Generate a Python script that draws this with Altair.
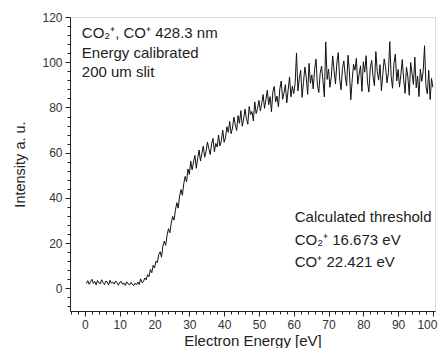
import altair as alt
import pandas as pd

# Intensity samples, one every 0.4 eV starting at 0.4 eV
intensity = [
    # 0.4 - 10.0
    2.1, 3.4, 1.8, 2.9, 4.0, 2.2, 3.1, 1.6, 3.5, 2.4, 2.0, 3.8, 2.6, 1.7, 3.2, 2.9, 1.5, 3.6, 2.3, 2.8, 1.9, 3.3, 2.5, 1.4, 2.7,
    # 10.4 - 20.0
    3.1, 1.8, 2.4, 1.3, 2.9, 2.0, 1.5, 2.6, 1.9, 1.2, 2.3, 1.6, 2.8, 1.7, 4.2, 2.5, 3.0, 4.6, 3.8, 6.1, 5.2, 8.4, 6.9, 10.2, 9.0,
    # 20.4 - 30.0
    12.0, 11.4, 14.9, 16.2, 13.8, 18.7, 20.9, 19.0, 23.5, 26.4, 24.6, 28.9, 31.8, 30.2, 34.6, 37.9, 35.5, 40.8, 43.7, 41.2, 46.3, 49.5, 47.1, 52.8, 50.4,
    # 30.4 - 40.0
    56.2, 52.4, 55.9, 58.8, 53.1, 57.6, 61.2, 56.3, 59.7, 62.9, 58.0, 60.6, 64.7, 61.8, 59.2, 63.9, 66.3, 60.4, 64.1, 62.5, 67.8, 63.0, 65.2, 69.9, 64.6,
    # 40.4 - 50.0
    66.8, 71.5, 69.0, 73.8, 68.4, 70.9, 75.7, 72.3, 69.8, 76.4, 73.0, 78.6, 71.7, 74.9, 79.3, 75.1, 72.6, 80.4, 76.8, 78.2, 74.0, 82.5, 77.3, 79.6, 83.1,
    # 50.4 - 60.0
    78.5, 81.9, 85.7, 79.6, 83.4, 87.6, 81.2, 84.8, 78.1, 86.9, 89.3, 82.4, 85.0, 80.3, 88.2, 91.7, 83.6, 86.5, 90.1, 82.0, 87.8, 93.5, 84.7, 89.4, 86.1,
    # 60.4 - 70.0
    90.6, 104.1, 87.3, 92.8, 96.4, 84.5, 91.0, 97.9, 93.2, 85.8, 99.5, 90.7, 94.4, 88.2, 96.7, 101.4, 89.9, 86.6, 95.1, 98.3, 91.8, 84.7, 109.0, 92.4, 97.0,
    # 70.4 - 80.0
    88.9, 93.5, 102.8, 96.1, 90.4, 99.7, 104.3, 92.6, 87.8, 97.2, 100.6, 94.0, 89.5, 103.1, 95.8, 83.4, 92.2, 99.0, 96.5, 101.7, 90.3, 94.8, 98.4, 87.1, 100.2,
    # 80.4 - 90.0
    95.6, 102.9, 91.2, 86.8, 97.5, 100.8, 93.4, 89.6, 104.7, 96.0, 92.1, 98.9, 87.4, 94.6, 101.5, 97.7, 90.9, 95.3, 109.1, 93.8, 88.5, 99.4, 103.6, 91.7, 96.8,
    # 90.4 - 100.0
    89.0, 94.7, 101.2, 92.3, 86.2, 97.8, 93.5, 85.4, 99.9, 95.1, 90.2, 102.3, 88.7, 93.9, 84.8, 97.0, 91.6, 95.8, 107.3, 89.5, 86.0, 96.4, 83.5, 92.8, 88.9,
]
energy_start = 0.4
energy_step = 0.4
energy = [round(energy_start + energy_step * i, 1) for i in range(len(intensity))]

major_x = [0, 10, 20, 30, 40, 50, 60, 70, 80, 90, 100]
minor_x = [v for v in range(-4, 101, 2) if v % 10 != 0]
major_y = [0, 20, 40, 60, 80, 100, 120]
minor_y = [v for v in range(-8, 121, 4) if v % 20 != 0]

ann_text = ["CO\u2082\u207a, CO\u207a 428.3 nm", "Energy calibrated", "200 um slit",
            "Calculated threshold", "CO\u2082\u207a 16.673 eV", "CO\u207a 22.421 eV"]
ann_x = [-0.9, -0.9, -0.9, 60.3, 60.3, 60.3]
ann_y = [112.9, 104.1, 95.7, 31.6, 21.4, 11.7]

df = pd.DataFrame({"E": energy, "I": intensity})
ann = pd.DataFrame({"x": ann_x, "y": ann_y, "t": ann_text})

FONT = "Liberation Sans"
xs = alt.Scale(domain=[-4.3, 100.6], nice=False, zero=False)
ys = alt.Scale(domain=[-10, 120], nice=False, zero=False)

line = alt.Chart(df).mark_line(color="#111111", strokeWidth=1.0).encode(
    x=alt.X("E:Q", scale=xs, axis=alt.Axis(
        values=major_x, title="Electron Energy [eV]", grid=False,
        tickSize=5, labelPadding=3, titlePadding=3, labelFontSize=12, titleFontSize=15,
        labelFont=FONT, titleFont=FONT, labelColor="#333", titleColor="#222",
        titleFontWeight="normal", domainColor="#222", tickColor="#222", labelFlush=False,
        labelOffset={"condition": {"test": "datum.value === 100", "value": -6}, "value": 0})),
    y=alt.Y("I:Q", scale=ys, axis=alt.Axis(
        values=major_y, title="Intensity a. u.", grid=False,
        tickSize=5, labelPadding=3, titlePadding=14, labelFontSize=12, titleFontSize=14.5,
        labelFont=FONT, titleFont=FONT, labelColor="#333", titleColor="#222",
        titleFontWeight="normal", domainColor="#222", tickColor="#222")),
)

minor = alt.Chart(df).mark_line(opacity=0).encode(
    x=alt.X("E:Q", scale=xs, axis=alt.Axis(
        values=minor_x, orient="bottom", labels=False, title=None, domain=False,
        grid=False, tickSize=3, tickColor="#222")),
    y=alt.Y("I:Q", scale=ys, axis=alt.Axis(
        values=minor_y, orient="left", labels=False, title=None, domain=False,
        grid=False, tickSize=3, tickColor="#222")),
)

texts = alt.Chart(ann).mark_text(align="left", baseline="middle", font=FONT,
                                 fontSize=15, color="#222").encode(
    x=alt.X("x:Q", scale=xs, axis=None),
    y=alt.Y("y:Q", scale=ys, axis=None),
    text="t:N",
)

chart = alt.layer(line, minor, texts).resolve_axis(
    x="independent", y="independent"
).properties(
    width=365, height=294,
    autosize=alt.AutoSizeParams(type="none"),
    padding={"left": 62, "top": 9, "right": 4, "bottom": 37},
).configure_view(stroke=None).configure(background="white")

chart.save("out.html", embed_options={"renderer": "svg", "actions": False})
